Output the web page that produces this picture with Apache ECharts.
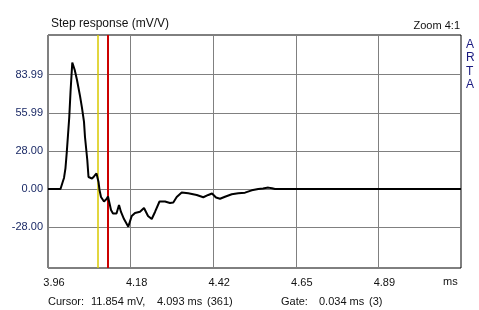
<!DOCTYPE html>
<html><head><meta charset="utf-8">
<script src="https://cdn.jsdelivr.net/npm/echarts@6/dist/echarts.min.js"></script>
<style>html,body{margin:0;padding:0;background:#fff}#c{width:479px;height:310px}</style>
</head><body><div id="c"></div>
<script>
// Data (time in ms, step response in mV/V)
const timeMs = [3.96, 3.9953, 4.0024, 4.0052, 4.0094, 4.0129, 4.0165, 4.0201, 4.0236, 4.0286,
  4.0355, 4.0419, 4.0504, 4.056, 4.0617, 4.0645, 4.071, 4.0744, 4.0786, 4.0843,
  4.0899, 4.097, 4.1027, 4.1055, 4.1097, 4.1182, 4.1253, 4.1295, 4.1323, 4.138,
  4.1436, 4.1535, 4.1606, 4.1662, 4.1747, 4.1868, 4.1965, 4.2058, 4.2199, 4.2312,
  4.2425, 4.253, 4.2623, 4.275, 4.2905, 4.3046, 4.3139, 4.3236, 4.3377, 4.3563,
  4.3801, 4.3987, 4.4128, 4.4233, 4.4346, 4.4459, 4.46, 4.479, 4.4975, 4.5165,
  4.5355, 4.554, 4.5673, 4.5823, 4.5928, 4.6012, 5.1267];
const stepMv = [0, 0, 5.9, 8.1, 15.4, 26.5, 39.7, 52.9, 71.3, 93.0,
  87.5, 80.1, 68.4, 59.6, 49.3, 38.2, 21.3, 8.8, 7.7, 7.7,
  9.2, 11.4, 5.1, -0.7, -5.9, -9.2, -7.4, -5.5, -8.8, -15.4,
  -18.0, -18.0, -11.8, -16.9, -22.1, -27.7, -19.9, -17.6, -16.7, -14.0,
  -19.9, -22.1, -16.9, -9.2, -9.2, -10.3, -9.9, -5.9, -2.6, -3.2,
  -4.4, -6.1, -4.4, -3.3, -6.3, -7.2, -5.7, -3.9, -3.2, -2.7,
  -1.0, 0, 0.4, 1.0, 0.5, 0, 0];
const xTickValues = [3.96, 4.19333, 4.42667, 4.66, 4.89333];
const xTickLabels = ['3.96', '4.18', '4.42', '4.65', '4.89'];
const yTickValues = [-28, 0, 28, 55.99, 83.99];
const yTickLabels = ['-28.00', '0.00', '28.00', '55.99', '83.99'];
const gateCursorMs = 4.0965;
const cursorMs = 4.1295;
const xMin = 3.96, xMax = 5.12667, yMin = -58.1, yMax = 113.2;

const FONT = "'Liberation Sans', Arial, sans-serif";
function nearestLabel(vals, labels, v) {
  let bi = 0, bd = Infinity;
  vals.forEach((t, i) => { const d = Math.abs(t - v); if (d < bd) { bd = d; bi = i; } });
  return labels[bi];
}
const chart = echarts.init(document.getElementById('c'), null, {renderer: 'canvas'});
chart.setOption({
  animation: false,
  backgroundColor: '#fff',
  grid: {left: 48, right: 18, top: 35, bottom: 42, show: true, borderColor: '#000', borderWidth: 1, backgroundColor: 'transparent'},
  xAxis: {
    type: 'value', min: xMin, max: xMax,
    axisLine: {show: false},
    axisTick: {show: false, customValues: xTickValues},
    splitLine: {show: true, lineStyle: {color: '#808080', width: 1}},
    axisLabel: {customValues: xTickValues, margin: 9, color: '#111', fontFamily: FONT, fontSize: 11,
      padding: [0, 0, 0, 12],
      formatter: v => nearestLabel(xTickValues, xTickLabels, v)}
  },
  yAxis: {
    type: 'value', min: yMin, max: yMax,
    axisLine: {show: false},
    axisTick: {show: false, customValues: yTickValues},
    splitLine: {show: true, lineStyle: {color: '#808080', width: 1}},
    axisLabel: {customValues: yTickValues, margin: 5, color: '#1b2a66', fontFamily: FONT, fontSize: 11,
      formatter: v => nearestLabel(yTickValues, yTickLabels, v)}
  },
  series: [{
    type: 'line', data: timeMs.map((t, i) => [t, stepMv[i]]),
    showSymbol: false, lineStyle: {color: '#000', width: 2}, z: 3,
    markLine: {
      silent: true, symbol: 'none', label: {show: false}, z: 2,
      data: [
        {xAxis: gateCursorMs, lineStyle: {color: '#d8c800', width: 1.5, type: 'solid', opacity: 1}},
        {xAxis: cursorMs, lineStyle: {color: '#cc0000', width: 2, type: 'solid', opacity: 1}}
      ]
    }
  }],
  graphic: [
    {type: 'text', left: 51, top: 18, style: {text: 'Step response (mV/V)', font: '12px ' + FONT, fill: '#111'}},
    {type: 'text', right: 19, top: 20, style: {text: 'Zoom 4:1', font: '11px ' + FONT, fill: '#111'}},
    {type: 'text', left: 466, top: 38, style: {text: 'A\nR\nT\nA', font: '12px ' + FONT, fill: '#1a1a80', lineHeight: 13.3}},
    {type: 'text', left: 443, top: 276, style: {text: 'ms', font: '11px ' + FONT, fill: '#111'}},
    {type: 'text', left: 48, top: 296, style: {text: 'Cursor:', font: '11px ' + FONT, fill: '#111'}},
    {type: 'text', left: 91, top: 296, style: {text: '11.854 mV,', font: '11px ' + FONT, fill: '#111'}},
    {type: 'text', left: 157, top: 296, style: {text: '4.093 ms', font: '11px ' + FONT, fill: '#111'}},
    {type: 'text', left: 207, top: 296, style: {text: '(361)', font: '11px ' + FONT, fill: '#111'}},
    {type: 'text', left: 281, top: 296, style: {text: 'Gate:', font: '11px ' + FONT, fill: '#111'}},
    {type: 'text', left: 319, top: 296, style: {text: '0.034 ms', font: '11px ' + FONT, fill: '#111'}},
    {type: 'text', left: 369, top: 296, style: {text: '(3)', font: '11px ' + FONT, fill: '#111'}}
  ]
});
</script></body></html>
